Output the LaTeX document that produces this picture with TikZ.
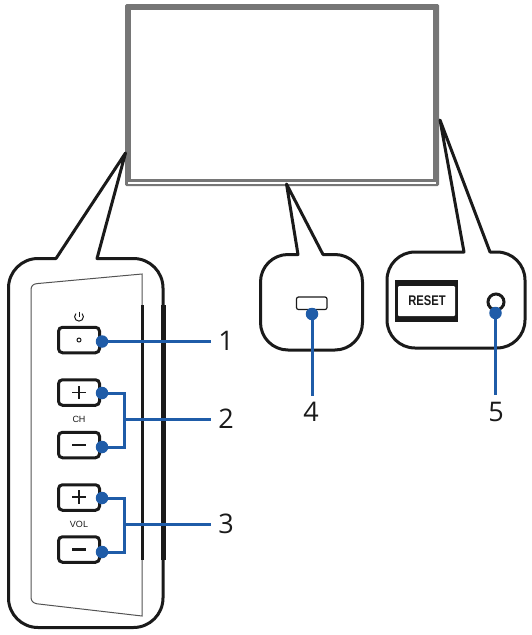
\documentclass[tikz,border=0pt]{standalone}
\usepackage{fontspec}
\setmainfont{Open Sans}
\newfontfamily\labelfont{Liberation Sans}
\definecolor{frameg}{HTML}{767676}
\definecolor{ink}{HTML}{1A1A1A}
\definecolor{callblue}{HTML}{1F5CA8}
\tikzset{
  outline/.style={draw=ink,line width=3pt,line join=round},
  panel/.style={draw=ink!75,line width=1pt},
  btn/.style={draw=ink,line width=3pt,rounded corners=4pt,minimum width=41pt,minimum height=25.5pt,inner sep=0pt,fill=white},
  lead/.style={draw=callblue,line width=3pt},
  dot/.style={circle,fill=callblue,minimum size=12.5pt,inner sep=0pt},
  num/.style={font=\fontsize{27}{27}\selectfont,text=ink,inner sep=0pt},
  tiny/.style={font=\labelfont\fontsize{9}{9}\selectfont,text=ink,inner sep=0pt},
  glyph/.style={draw=ink,line width=1.5pt}
}
\begin{document}
\begin{tikzpicture}[x=1pt,y=-1pt]
\useasboundingbox (0,0) rectangle (532,635);
% TV
\fill[frameg,rounded corners=1.5pt] (125,4) rectangle (439,186);
\fill[white] (131,9.5) rectangle (433,179);
\fill[white] (128,182.2) rectangle (435.5,184);
% callout left
\draw[outline] (125.5,153)
  -- (56,258.5) -- (38,258.5) arc[start angle=-90,end angle=-180,radius=29.5] -- (8.5,598)
  arc[start angle=180,end angle=90,radius=29.5] -- (133.5,627.5)
  arc[start angle=90,end angle=0,radius=29.5] -- (163,288)
  arc[start angle=0,end angle=-90,radius=29.5] -- (97,258.5) -- cycle;
% panel
\draw[panel] (142,274) -- (37,283.6) .. controls (33,284) and (31,286) .. (31,290) -- (31,597) .. controls (31,601) and (33,603) .. (37,603.8) -- (142,616) -- cycle;
\draw[draw=ink,line width=3pt] (142,305) -- (142,560);
\draw[draw=ink,line width=4.5pt] (163.3,305) -- (163.3,560);
% buttons
\node[btn] (power) at (79,340) {};
\node[btn] (chup) at (79,392.5) {};
\node[btn] (chdn) at (79,445) {};
\node[btn] (volup) at (79,497.5) {};
\node[btn] (voldn) at (79,549.5) {};
\node[circle,draw=ink,line width=1pt,minimum size=4pt,inner sep=0pt] (powerdot) at (79,340) {};
\draw[draw=ink,line width=1pt] (75.9,313.6) arc[start angle=-135,end angle=-405,radius=4.4];
\draw[draw=ink,line width=1pt] (79,311.5) -- (79,317);
\node[tiny] (chlab) at (79,419) {CH};
\node[tiny] (vollab) at (79,524) {VOL};
\draw[glyph,line width=1.1pt] (72,392.7) -- (86,392.7) (79,386) -- (79,399);
\draw[glyph,line width=1.3pt] (72,445) -- (86,445);
\draw[glyph,line width=1.8pt] (72,497) -- (86,497) (79,490) -- (79,504);
\draw[glyph,line width=2.2pt] (72,549.5) -- (86,549.5);
% callout 4
\draw[outline] (286.5,184)
  -- (298,254.5) -- (288,254.5) arc[start angle=-90,end angle=-180,radius=27.5] -- (260.5,322.5)
  arc[start angle=180,end angle=90,radius=27.5] -- (335,350)
  arc[start angle=90,end angle=0,radius=27.5] -- (362.5,282)
  arc[start angle=0,end angle=-90,radius=27.5] -- (323,254.5) -- cycle;
\draw[draw=ink,line width=1.2pt,rounded corners=2pt] (296.5,297) rectangle (327,309.5);
% callout 5
\draw[outline] (440,120)
  -- (464,252) -- (415,252) arc[start angle=-90,end angle=-180,radius=28] -- (387,320)
  arc[start angle=180,end angle=90,radius=28] -- (497,348)
  arc[start angle=90,end angle=0,radius=28] -- (525,280)
  arc[start angle=0,end angle=-90,radius=28] -- (490,252) -- cycle;
\fill[ink] (395,280) rectangle (458,322);
\node[fill=white,rounded corners=1pt,minimum width=57pt,minimum height=30pt,inner sep=0pt] (reset) at (426.5,301) {};
\node[font=\labelfont\bfseries\fontsize{14}{14}\selectfont,text=ink,inner sep=0pt,xscale=0.8] (resetlab) at (427,301) {RESET};
\node[circle,draw=ink,line width=3pt,minimum size=16pt,inner sep=0pt] (jack) at (496,302) {};
% leaders
\node[dot] (d1) at (102,341.5) {};
\node[dot] (d2a) at (102,393) {};
\node[dot] (d2b) at (102,447) {};
\node[dot] (d3a) at (102,498) {};
\node[dot] (d3b) at (102,552) {};
\node[dot] (d4) at (312,314) {};
\node[dot] (d5) at (495.5,313) {};
\node[num] (n1) at (226,341) {1};
\node[num] (n2) at (226,419) {2};
\node[num] (n3) at (226,524) {3};
\node[num] (n4) at (311,412) {4};
\node[num] (n5) at (496,412) {5};
\coordinate (e1) at (211,341.5);
\coordinate (e2) at (211,419);
\coordinate (e3) at (211,524);
\coordinate (j2) at (124,419);
\coordinate (j3) at (124,524);
\coordinate (e4) at (312,396);
\coordinate (e5) at (495.5,395);
\draw[lead] (d1.center) -- (e1);
\draw[lead] (d2a.center) -| (j2) -- (e2);
\draw[lead] (d2b.center) -| (j2);
\draw[lead] (d3a.center) -| (j3) -- (e3);
\draw[lead] (d3b.center) -| (j3);
\draw[lead] (d4.center) -- (e4);
\draw[lead] (d5.center) -- (e5);
\end{tikzpicture}
\end{document}
